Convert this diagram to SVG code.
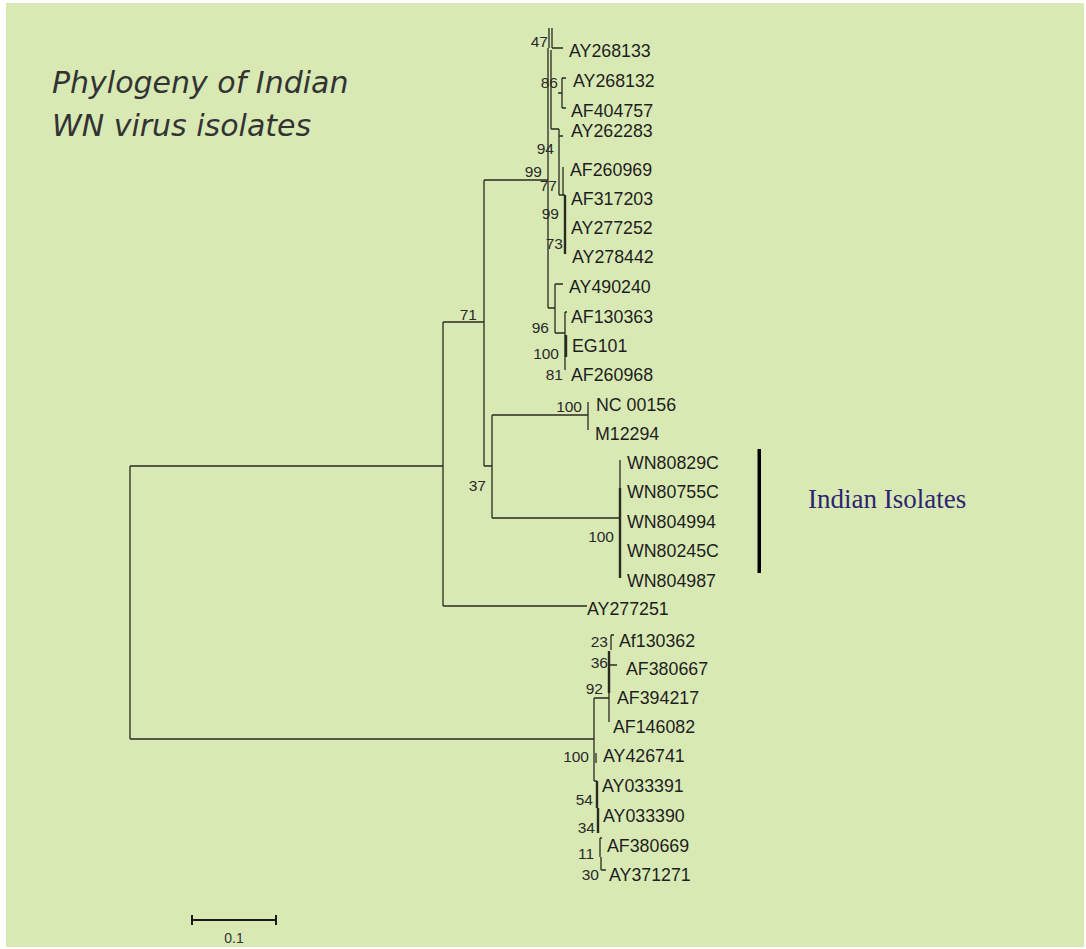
<svg xmlns="http://www.w3.org/2000/svg" width="1086" height="949" viewBox="0 0 1086 949">
<style>
.ln{stroke:#2a2a22;stroke-width:1.3;fill:none}
.tk{stroke:#2a2a22;stroke-width:2.4;fill:none}
.lf{font-family:"Liberation Sans",Arial,sans-serif;font-size:17.8px;fill:#1e1e1e}
.bs{font-family:"Liberation Sans",Arial,sans-serif;font-size:15.5px;fill:#2a2a2a;text-anchor:end}
.tt{font-family:"DejaVu Sans",sans-serif;font-style:italic;font-size:30px;fill:#333}
</style>
<rect x="6" y="3" width="1078" height="944" fill="#d9e9b4"/>
<g id="title">
<text class="tt" x="52" y="93">Phylogeny of Indian</text>
<text class="tt" x="52" y="136">WN virus isolates</text>
</g>
<g id="connectors">
<path class="ln" d="M130,466V739M130,466H443M443,322V606M443,322H484M443,606H587M484,180V466M484,180H548M484,466H492M492,415V518M492,415H588M588,402V430M492,518H620M620,460V488"/>
<path class="tk" d="M620,488V578"/>
<path class="ln" d="M549,28V48M552,28V48M552,48H563M548,48V308M551,50V129M551,129H559M558,93H562M562,78V108M562,78H566M562,108H566M559,129V195M559,136H563M563,167V195M559,195H565"/>
<path class="tk" d="M565,195V254"/>
<path class="ln" d="M548,308H555M555,284V333M555,284H563M555,333H565M565,312V370M565,312H567"/>
<path class="tk" d="M566,335V357"/>
<path class="ln" d="M130,739H594M594,698V781M594,698H609M609,651V722M611,635V650M611,635H614M609,665H617M594,781H597M600,838V857M600,838H602M601,857V870M601,870H606M596,753V763"/>
<path class="tk" d="M609,651V693M597,781V808M598,808V833"/>
</g>
<g id="labels">
<text class="bs" x="548" y="47">47</text>
<text class="bs" x="558" y="88">86</text>
<text class="bs" x="554" y="154">94</text>
<text class="bs" x="542" y="177">99</text>
<text class="bs" x="557" y="191">77</text>
<text class="bs" x="559" y="219">99</text>
<text class="bs" x="563" y="249">73</text>
<text class="bs" x="549" y="333">96</text>
<text class="bs" x="559" y="359">100</text>
<text class="bs" x="563" y="380">81</text>
<text class="bs" x="477" y="320">71</text>
<text class="bs" x="582" y="412">100</text>
<text class="bs" x="486" y="491">37</text>
<text class="bs" x="614" y="542">100</text>
<text class="bs" x="608" y="647">23</text>
<text class="bs" x="608" y="668">36</text>
<text class="bs" x="603" y="694">92</text>
<text class="bs" x="589" y="762">100</text>
<text class="bs" x="593" y="805">54</text>
<text class="bs" x="595" y="833">34</text>
<text class="bs" x="594" y="859">11</text>
<text class="bs" x="599" y="880">30</text>
</g>
<g id="leaves">
<text class="lf" x="569" y="57">AY268133</text>
<text class="lf" x="573" y="87">AY268132</text>
<text class="lf" x="571" y="117">AF404757</text>
<text class="lf" x="571" y="137">AY262283</text>
<text class="lf" x="570" y="176">AF260969</text>
<text class="lf" x="571" y="205">AF317203</text>
<text class="lf" x="571" y="234">AY277252</text>
<text class="lf" x="572" y="263">AY278442</text>
<text class="lf" x="569" y="293">AY490240</text>
<text class="lf" x="571" y="323">AF130363</text>
<text class="lf" x="572" y="352">EG101</text>
<text class="lf" x="571" y="381">AF260968</text>
<text class="lf" x="596" y="411">NC 00156</text>
<text class="lf" x="595" y="440">M12294</text>
<text class="lf" x="627" y="469">WN80829C</text>
<text class="lf" x="627" y="498">WN80755C</text>
<text class="lf" x="627" y="528">WN804994</text>
<text class="lf" x="627" y="557">WN80245C</text>
<text class="lf" x="627" y="587">WN804987</text>
<text class="lf" x="587" y="615">AY277251</text>
<text class="lf" x="619" y="647">Af130362</text>
<text class="lf" x="626" y="675">AF380667</text>
<text class="lf" x="617" y="704">AF394217</text>
<text class="lf" x="613" y="733">AF146082</text>
<text class="lf" x="603" y="762">AY426741</text>
<text class="lf" x="602" y="792">AY033391</text>
<text class="lf" x="603" y="822">AY033390</text>
<text class="lf" x="607" y="852">AF380669</text>
<text class="lf" x="609" y="881">AY371271</text>
</g>
<g id="indian-isolates">
<rect x="757.5" y="449" width="3.5" height="124" fill="#000"/>
<text x="808" y="508" style="font-family:'Liberation Serif','Times New Roman',serif;font-size:27px;fill:#2e2472">Indian Isolates</text>
</g>
<g id="scale-bar">
<path d="M192,920H276M192,915V925M276,915V925" stroke="#1a1a1a" stroke-width="2" fill="none"/>
<text x="234" y="943" text-anchor="middle" style="font-family:'Liberation Sans',Arial,sans-serif;font-size:14px;fill:#333">0.1</text>
</g>
</svg>
